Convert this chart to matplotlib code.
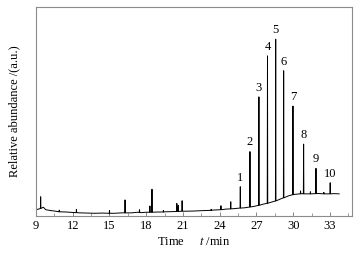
import matplotlib
matplotlib.use('Agg')
import matplotlib.pyplot as plt
from matplotlib.ticker import MultipleLocator

plt.rcParams['font.family'] = ['Liberation Serif', 'DejaVu Serif']
plt.rcParams['mathtext.fontset'] = 'stix'

# baseline of the chromatogram (time in min, relative signal)
base_t = [9.0, 9.2, 9.6, 9.8, 10.2, 10.6, 11.0, 11.5, 12.0, 12.6, 13.2, 13.8, 14.4,
          15.4, 16.0, 16.8, 17.3, 17.6, 18.0, 18.9, 19.5, 20.2, 21.3, 22.0, 22.7,
          23.4, 24.0, 24.5, 25.3, 26.0, 26.8, 27.5, 28.2, 28.9, 29.6, 30.2, 30.8,
          31.4, 32.0, 32.6, 33.3, 33.75]
base_y = [3.0, 3.3, 4.2, 3.0, 2.6, 2.3, 2.0, 1.9, 1.7, 1.5, 1.4, 1.3, 1.4,
          1.3, 1.5, 1.5, 1.8, 1.6, 1.8, 1.9, 2.0, 2.1, 2.3, 2.4, 2.6,
          2.8, 3.0, 3.3, 3.6, 3.9, 4.6, 5.6, 6.6, 8.0, 9.6, 10.4, 10.7,
          10.6, 10.8, 10.6, 10.7, 10.6]

# small unlabelled peaks
minor_t = [9.38, 10.9, 12.3, 15.0, 16.27, 17.45, 18.3, 18.47, 19.4, 20.5, 20.62,
           20.93, 23.3, 24.1, 24.9, 30.6, 31.4, 32.5]
minor_top = [9.2, 2.8, 3.2, 2.6, 7.7, 3.0, 4.8, 12.8, 2.6, 6.0, 5.0,
             7.3, 3.2, 4.9, 6.8, 12.0, 11.6, 11.3]
minor_base = [3.6, 2.0, 1.6, 1.3, 1.5, 1.7, 1.8, 1.8, 1.9, 2.2, 2.2,
              2.3, 2.7, 3.0, 3.4, 10.6, 10.6, 10.6]

# numbered peaks
peak_labels = ['1', '2', '3', '4', '5', '6', '7', '8', '9', '10']
peak_t = [25.68, 26.47, 27.2, 27.9, 28.57, 29.22, 29.98, 30.85, 31.86, 33.02]
peak_top = [14.0, 30.8, 57.0, 76.6, 84.6, 69.5, 52.6, 34.4, 22.8, 15.9]
peak_base = [3.8, 4.3, 5.1, 6.1, 7.2, 8.7, 10.2, 10.6, 10.7, 10.6]

# assemble the trace: baseline points plus a narrow spike for every peak
pts = list(zip(base_t, base_y))
w = 0.02
for t, top, b in zip(minor_t + peak_t, minor_top + peak_top, minor_base + peak_base):
    pts += [(t - w, b), (t, top), (t + w, b)]
pts.sort()
xs = [p[0] for p in pts]
ys = [p[1] for p in pts]

fig = plt.figure(figsize=(3.64, 2.56), dpi=100)
ax = fig.add_axes([36 / 364, 40 / 256, 316 / 364, 209 / 256])
ax.plot(xs, ys, color='black', lw=0.7)

for lab, t, top in zip(peak_labels, peak_t, peak_top):
    ax.text(t, top + 1.5, lab, ha='center', va='bottom', fontsize=9)

ax.set_xlim(9, 34.8)
ax.set_ylim(0, 100)
ax.xaxis.set_major_locator(MultipleLocator(3))
ax.xaxis.set_minor_locator(MultipleLocator(1.5))
ax.tick_params(axis='x', direction='in', length=3, width=0.6, labelsize=9,
               pad=3, colors='0.45', labelcolor='black')
ax.tick_params(axis='x', which='minor', direction='in', length=2, width=0.5, colors='0.45')
ax.set_yticks([])
for s in ax.spines.values():
    s.set_color('0.55')
    s.set_linewidth(0.8)

ax.set_xlabel('Time     $t$ /min', fontsize=9, labelpad=3)
ax.set_ylabel('Relative abundance /(a.u.)', fontsize=9, labelpad=11)

fig.savefig('out.png', dpi=100)
